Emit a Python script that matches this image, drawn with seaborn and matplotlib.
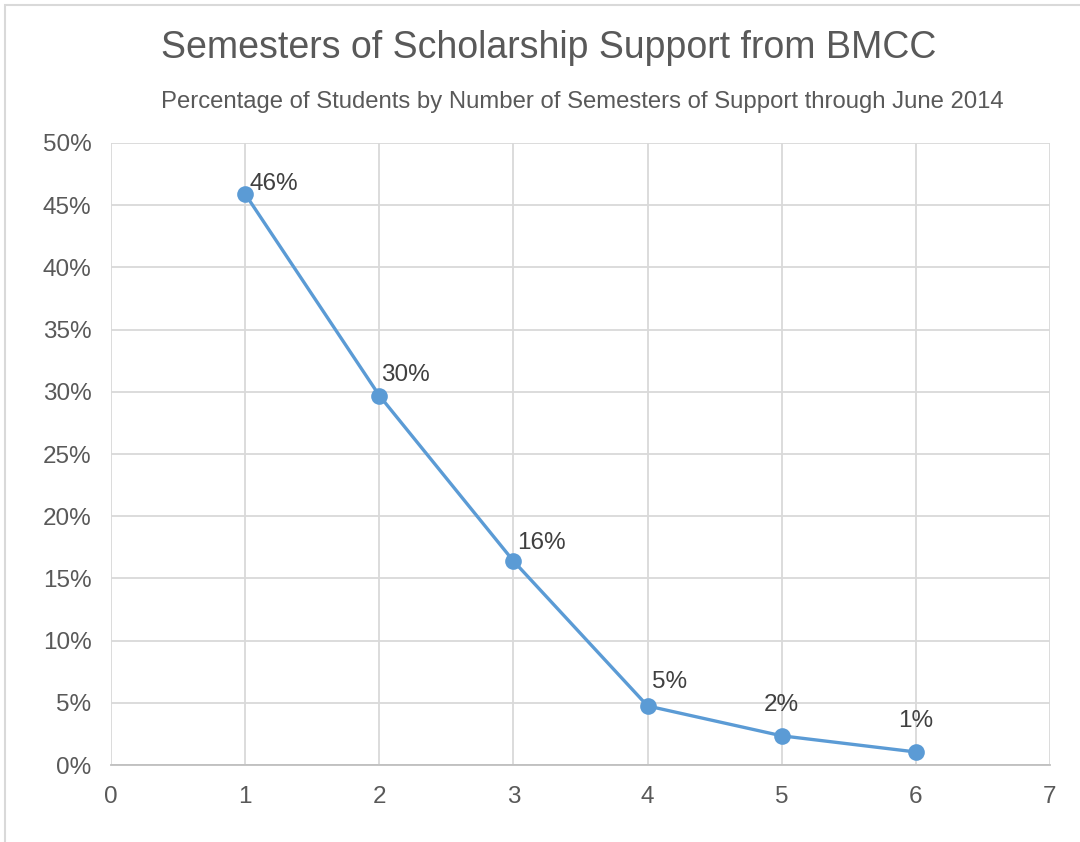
import numpy as np
import pandas as pd
import matplotlib
matplotlib.use('Agg')
import matplotlib.pyplot as plt
import seaborn as sns
from matplotlib.patches import Rectangle
from matplotlib.ticker import FuncFormatter, MultipleLocator

semesters = [1, 2, 3, 4, 5, 6]
pct = [45.9, 29.7, 16.4, 4.75, 2.35, 1.05]
labels = ['46%', '30%', '16%', '5%', '2%', '1%']

df = pd.DataFrame({'semesters': semesters, 'pct': pct})

sns.set_theme(style='whitegrid')
plt.rcParams['font.family'] = ['Liberation Sans', 'DejaVu Sans']

text_col = '#595959'
line_col = '#5B9BD5'
grid_col = '#D9D9D9'

fig = plt.figure(figsize=(10.8, 8.42), dpi=100)
ax = fig.add_axes([0.1028, 0.0914, 0.8694, 0.7388])

sns.lineplot(data=df, x='semesters', y='pct', ax=ax, color=line_col,
             linewidth=2.4, marker='o', markersize=12, markeredgewidth=0)

# data label offsets (points) per marker
offsets = [(3, 7), (1, 15), (3, 13), (3, 17), (0, 22), (0, 22)]
aligns = ['left', 'left', 'left', 'left', 'center', 'center']
for x, y, lab, off, ha in zip(semesters, pct, labels, offsets, aligns):
    ax.annotate(lab, (x, y), xytext=off, textcoords='offset points',
                ha=ha, va='center', fontsize=17.5, color='#404040')

ax.set_xlim(0, 7)
ax.set_ylim(0, 50)
ax.xaxis.set_major_locator(MultipleLocator(1))
ax.yaxis.set_major_locator(MultipleLocator(5))
ax.yaxis.set_major_formatter(FuncFormatter(lambda v, p: f'{v:.0f}%'))
ax.set_xlabel('')
ax.set_ylabel('')
ax.tick_params(axis='both', labelsize=17.5, colors=text_col, length=0)
ax.tick_params(axis='x', pad=15)
ax.tick_params(axis='y', pad=14)
ax.grid(True, color=grid_col, linewidth=1.3)
for side in ['left', 'top', 'right']:
    ax.spines[side].set_visible(False)
ax.spines['bottom'].set_color('#BFBFBF')
ax.spines['bottom'].set_linewidth(1.3)

fig.text(0.508, 0.943, 'Semesters of Scholarship Support from BMCC',
         ha='center', va='center', fontsize=27, color=text_col)
fig.text(0.539, 0.879, 'Percentage of Students by Number of Semesters of Support through June 2014',
         ha='center', va='center', fontsize=17.2, color=text_col)

fig.patches.append(Rectangle((0.005, -0.01), 1.1, 1.004, transform=fig.transFigure,
                             fill=False, edgecolor=grid_col, linewidth=1.5))

fig.savefig('out.png', dpi=100, facecolor='white')
